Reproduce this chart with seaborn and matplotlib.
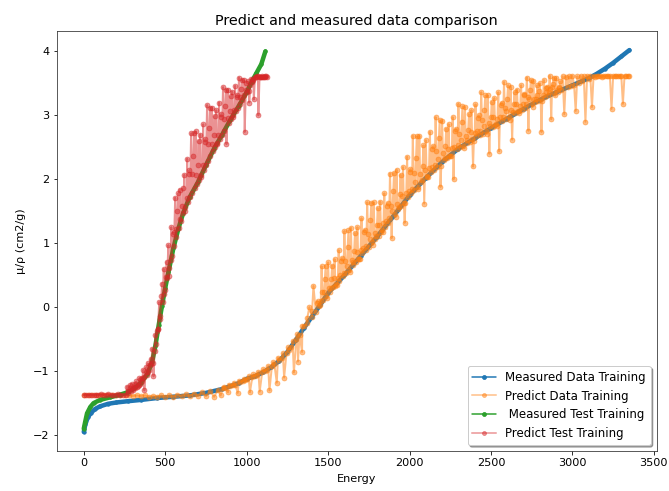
import numpy as np
import matplotlib
matplotlib.use("Agg")
import matplotlib.pyplot as plt
import seaborn as sns

# ---------------- data ----------------
# Measured training curve
meas_train_x = [0, 10, 25, 45, 70, 100, 150, 200, 270, 350,
                450, 550, 650, 750, 850, 950, 1000, 1050, 1100, 1150,
                1200, 1250, 1300, 1350, 1400, 1450, 1500, 1600, 1700, 1800,
                1900, 2000, 2100, 2200, 2300, 2400, 2500, 2600, 2700, 2800,
                2900, 3000, 3100, 3150, 3200, 3250, 3300, 3350]
meas_train_y = [-1.95, -1.83, -1.72, -1.65, -1.59, -1.55, -1.51, -1.49, -1.47, -1.45,
                -1.42, -1.40, -1.38, -1.34, -1.28, -1.19, -1.12, -1.08, -1.02, -0.94,
                -0.84, -0.70, -0.52, -0.33, -0.15, 0.03, 0.22, 0.50, 0.80, 1.10,
                1.42, 1.75, 2.02, 2.27, 2.48, 2.64, 2.80, 2.95, 3.10, 3.24,
                3.36, 3.47, 3.58, 3.65, 3.73, 3.82, 3.92, 4.02]

# Predicted training values, by energy range
pt_low_x = [0, 25, 50, 75, 100, 125, 150, 175, 200, 225, 250, 275, 300, 325, 350, 375,
            400, 425, 450, 475, 500, 525, 550, 575, 600, 625, 650, 675, 700, 725, 750,
            775, 800, 825, 840]
pt_low_y = [-1.37, -1.37, -1.37, -1.37, -1.37, -1.37, -1.38, -1.37, -1.38, -1.38, -1.38,
            -1.38, -1.39, -1.38, -1.39, -1.38, -1.40, -1.39, -1.40, -1.38, -1.40, -1.38,
            -1.40, -1.37, -1.39, -1.36, -1.39, -1.35, -1.39, -1.33, -1.39, -1.31, -1.40,
            -1.29, -1.38]
pt_rise_x = [855, 870, 885, 900, 915, 930, 945, 960, 975, 990, 1005, 1020, 1035, 1050,
             1065, 1080, 1095, 1110, 1125, 1140, 1155, 1170, 1185, 1200, 1215, 1230, 1245,
             1260, 1275, 1290, 1305, 1315, 1325, 1340, 1355, 1370, 1385, 1400, 1410, 1425,
             1435, 1445]
pt_rise_y = [-1.27, -1.26, -1.33, -1.23, -1.22, -1.21, -1.34, -1.17, -1.16, -1.14, -1.12,
             -1.33, -1.09, -1.07, -1.06, -1.32, -1.02, -1.00, -0.98, -1.30, -0.92, -0.89,
             -1.18, -0.83, -0.80, -1.10, -0.71, -0.67, -0.62, -1.02, -0.50, -0.85, -0.43,
             -0.70, -0.30, -0.25, 0.00, -0.15, 0.33, -0.08, 0.10, 0.02]
pt_rise2_x = [862, 892, 922, 952, 982, 1012, 1042, 1072, 1102, 1132, 1162, 1192, 1222,
              1252, 1282, 1312, 1342, 1372, 1402, 1432]
pt_rise2_y = [-1.24, -1.21, -1.18, -1.15, -1.12, -1.08, -1.05, -1.01, -0.97, -0.92, -0.86,
              -0.79, -0.72, -0.63, -0.53, -0.42, -0.29, -0.17, -0.06, 0.06]
pt_band_near_x = [1450, 1470, 1490, 1510, 1530, 1550, 1570, 1590, 1610, 1630, 1650, 1670,
                  1690, 1710, 1730, 1750, 1770, 1790, 1810, 1830, 1850, 1870, 1890, 1910,
                  1930, 1950, 1970, 1990, 2010, 2030, 2050, 2070, 2090, 2110, 2130, 2150,
                  2170, 2190, 2210, 2230, 2250, 2270, 2290, 2310, 2330, 2350, 2370, 2390,
                  2410, 2430, 2450, 2470, 2490, 2510, 2530, 2550, 2570, 2590, 2610, 2630,
                  2650, 2670, 2690, 2710, 2730, 2750, 2770, 2790, 2810, 2830, 2850, 2870,
                  2890, 2910]
pt_band_near_y = [0.03, 0.12, 0.18, 0.24, 0.31, 0.36, 0.41, 0.48, 0.53, 0.58, 0.66, 0.71,
                  0.76, 0.84, 0.89, 0.94, 1.02, 1.07, 1.12, 1.21, 1.26, 1.31, 1.08, 1.45,
                  1.53, 1.58, 1.32, 1.72, 1.79, 1.83, 1.88, 1.95, 1.62, 2.05, 2.11, 2.15,
                  2.19, 1.88, 2.30, 2.33, 2.37, 2.00, 2.47, 2.50, 2.52, 2.57, 2.59, 2.20,
                  2.67, 2.69, 2.71, 2.76, 2.40, 2.82, 2.86, 2.44, 2.91, 2.95, 2.97, 2.62,
                  3.04, 3.06, 3.08, 3.12, 2.76, 3.17, 3.21, 3.23, 2.74, 3.28, 3.31, 2.94,
                  3.35, 3.37]
pt_band_near2_x = [1455, 1475, 1495, 1515, 1535, 1555, 1575, 1595, 1615, 1635, 1655, 1675,
                   1695, 1715, 1735, 1755, 1775, 1795, 1815, 1835, 1855, 1875, 1895, 1915,
                   1935, 1955, 1975, 1995, 2015, 2035, 2055, 2075, 2095, 2115, 2135, 2155,
                   2175, 2195, 2215, 2235, 2255, 2275, 2295, 2315, 2335, 2355, 2375, 2395,
                   2415, 2435, 2455, 2475, 2495, 2515, 2535, 2555, 2575, 2595, 2615, 2635,
                   2655, 2675, 2695, 2715, 2735, 2755, 2775, 2795, 2815, 2835, 2855, 2875,
                   2895, 2915]
pt_band_near2_y = [0.10, 0.23, 0.14, 0.30, 0.45, 0.34, 0.51, 0.54, 0.65, 0.55, 0.70, 0.86,
                   0.75, 0.92, 0.96, 1.07, 0.97, 1.12, 1.28, 1.18, 1.35, 1.39, 1.51, 1.41,
                   1.57, 1.74, 1.63, 1.81, 1.85, 1.95, 1.85, 1.99, 2.14, 2.03, 2.19, 2.22,
                   2.32, 2.21, 2.34, 2.48, 2.36, 2.51, 2.53, 2.62, 2.49, 2.61, 2.74, 2.60,
                   2.75, 2.76, 2.84, 2.71, 2.83, 2.97, 2.83, 2.97, 2.98, 3.06, 2.93, 3.05,
                   3.18, 3.04, 3.18, 3.18, 3.26, 3.13, 3.25, 3.38, 3.23, 3.37, 3.37, 3.44,
                   3.31, 3.42]
pt_band_up_x = [1460, 1480, 1500, 1520, 1540, 1560, 1580, 1600, 1620, 1640, 1660, 1680,
                1700, 1720, 1740, 1760, 1780, 1800, 1820, 1840, 1860, 1880, 1900, 1920,
                1940, 1960, 1980, 2000, 2020, 2040, 2060, 2080, 2100, 2120, 2140, 2160,
                2180, 2200, 2220, 2240, 2260, 2280, 2300, 2320, 2340, 2360, 2380, 2400,
                2420, 2440, 2460, 2480, 2500, 2520, 2540, 2560, 2580, 2600, 2620, 2640,
                2660, 2680, 2700, 2720, 2740, 2760, 2780, 2800, 2820, 2840, 2860, 2880,
                2900, 2920]
pt_band_up_y = [0.64, 0.44, 0.70, 0.44, 0.75, 0.46, 0.73, 1.19, 0.94, 1.24, 0.88, 1.25,
                0.89, 1.17, 1.64, 1.36, 1.64, 1.29, 1.65, 1.31, 1.59, 2.09, 1.82, 2.15,
                1.77, 2.19, 1.78, 2.12, 2.68, 2.34, 2.68, 2.21, 2.61, 2.18, 2.48, 2.97,
                2.64, 2.91, 2.52, 2.86, 2.49, 2.75, 3.18, 2.89, 3.13, 2.77, 3.08, 2.72,
                2.96, 3.36, 3.08, 3.31, 2.98, 3.27, 2.95, 3.16, 3.52, 3.26, 3.45, 3.17,
                3.40, 3.14, 3.31, 3.59, 3.39, 3.54, 3.32, 3.50, 3.31, 3.43, 3.62, 3.49,
                3.58, 3.45]
pt_band_mid_x = [1465, 1485, 1505, 1525, 1545, 1565, 1585, 1605, 1625, 1645, 1665, 1685,
                 1705, 1725, 1745, 1765, 1785, 1805, 1825, 1845, 1865, 1885, 1905, 1925,
                 1945, 1965, 1985, 2005, 2025, 2045, 2065, 2085, 2105, 2125, 2145, 2165,
                 2185, 2205, 2225, 2245, 2265, 2285, 2305, 2325, 2345, 2365, 2385, 2405,
                 2425, 2445, 2465, 2485, 2505, 2525, 2545, 2565, 2585, 2605, 2625, 2645,
                 2665, 2685, 2705, 2725, 2745, 2765, 2785, 2805, 2825, 2845, 2865, 2885,
                 2905, 2925]
pt_band_mid_y = [0.24, 0.65, 0.30, 0.65, 0.33, 0.89, 0.77, 0.72, 1.20, 0.74, 1.16, 0.75,
                 1.39, 1.21, 1.15, 1.63, 1.16, 1.55, 1.17, 1.78, 1.63, 1.59, 2.10, 1.61,
                 2.07, 1.63, 2.35, 2.16, 2.10, 2.67, 2.08, 2.53, 2.03, 2.74, 2.52, 2.44,
                 2.92, 2.41, 2.79, 2.37, 2.97, 2.79, 2.71, 3.14, 2.67, 3.02, 2.63, 3.17,
                 3.00, 2.92, 3.31, 2.88, 3.21, 2.85, 3.36, 3.20, 3.12, 3.47, 3.08, 3.36,
                 3.06, 3.47, 3.34, 3.28, 3.55, 3.26, 3.47, 3.25, 3.55, 3.45, 3.41, 3.59,
                 3.40, 3.53]
pt_top_x = [2930, 2940, 2950, 2960, 2970, 2980, 2990, 3000, 3010, 3020, 3030, 3040, 3050,
            3060, 3070, 3080, 3090, 3100, 3110, 3120, 3130, 3140, 3150, 3160, 3170, 3180,
            3190, 3200, 3210, 3220, 3230, 3240, 3250, 3260, 3270, 3280, 3290, 3300, 3310,
            3320, 3330, 3340, 3350]
pt_top_y = [3.40, 3.61, 3.02, 3.60, 3.44, 3.61, 3.46, 3.62, 3.48, 3.07, 3.61, 3.51, 3.62,
            3.53, 3.61, 2.90, 3.62, 3.57, 3.61, 3.13, 3.62, 3.60, 3.62, 3.61, 3.62, 3.60,
            3.62, 3.61, 3.62, 3.61, 3.62, 3.10, 3.61, 3.62, 3.61, 3.62, 3.61, 3.62, 3.18,
            3.62, 3.61, 3.62, 3.62]

# Measured test curve
meas_test_x = [0, 8, 20, 40, 60, 100, 160, 220, 270, 310,
               350, 390, 420, 440, 460, 480, 500, 520, 550, 580,
               610, 650, 700, 750, 800, 850, 900, 950, 1000, 1030,
               1060, 1090, 1115]
meas_test_y = [-1.90, -1.80, -1.66, -1.56, -1.50, -1.45, -1.41, -1.37, -1.33, -1.27,
               -1.18, -1.05, -0.85, -0.60, -0.28, 0.02, 0.30, 0.55, 0.92, 1.22,
               1.47, 1.72, 1.95, 2.22, 2.48, 2.70, 2.93, 3.14, 3.36, 3.52,
               3.66, 3.80, 4.00]

# Predicted test values
ps_flat_x = [0, 15, 30, 45, 60, 75, 90, 105, 120, 135, 150, 165, 180, 195, 210, 225, 240]
ps_flat_y = [-1.37, -1.37, -1.37, -1.37, -1.37, -1.37, -1.37, -1.36, -1.37, -1.37, -1.36,
             -1.37, -1.37, -1.37, -1.36, -1.37, -1.37]
ps_near_x = [260, 274, 288, 302, 316, 330, 344, 358, 372, 386, 400, 414, 428, 442, 456,
             470, 484, 498, 512, 526, 540, 554, 568, 582, 596, 610, 624, 638, 652, 666,
             680, 694, 708, 722, 736, 750, 764, 778, 792, 806, 820, 834, 848, 862, 876,
             890, 904, 918, 932, 946, 960, 974, 988, 1002, 1016, 1030, 1044, 1058, 1072,
             1086, 1100, 1114]
ps_near_y = [-1.37, -1.34, -1.31, -1.29, -1.26, -1.23, -1.20, -1.15, -1.30, -1.06, -0.98,
             -0.89, -1.08, -0.57, -0.34, -0.13, 0.08, 0.27, 0.45, 0.62, 0.80, 0.96, 1.10,
             1.24, 1.35, 1.47, 1.56, 1.65, 1.73, 1.79, 1.86, 1.92, 1.99, 2.07, 2.14, 2.22,
             2.29, 2.37, 2.44, 2.51, 2.57, 2.63, 2.69, 2.76, 2.55, 2.88, 2.95, 3.01, 3.06,
             3.12, 3.18, 3.24, 2.74, 3.37, 3.20, 3.52, 3.25, 3.60, 3.00, 3.60, 3.60, 3.60]
ps_up_x = [267, 281, 295, 309, 323, 337, 351, 365, 379, 393, 407, 421, 435, 449, 463,
           477, 491, 505, 519, 533, 547, 561, 575, 589, 603, 617, 631, 645, 659, 673,
           687, 701, 715, 729, 743, 757, 771, 785, 799, 813, 827, 841, 855, 869, 883,
           897, 911, 925, 939, 953, 967, 981, 995, 1009, 1023, 1037, 1051, 1065, 1079,
           1093, 1107, 1121]
ps_up_y = [-1.24, -1.26, -1.20, -1.24, -1.16, -1.21, -1.12, -0.98, -1.01, -0.88, -0.90,
           -0.65, -0.69, -0.37, 0.08, 0.18, 0.60, 0.47, 0.97, 0.74, 1.14, 1.71, 1.51,
           1.84, 1.58, 2.07, 1.70, 2.09, 2.72, 2.36, 2.75, 2.23, 2.70, 2.22, 2.58, 3.16,
           2.80, 3.12, 2.70, 3.08, 2.69, 2.98, 3.44, 3.15, 3.40, 3.07, 3.37, 3.09, 3.29,
           3.59, 3.41, 3.55, 3.40, 3.53, 3.47, 3.56, 3.60, 3.61, 3.60, 3.61, 3.60, 3.61]
ps_mid_x = [271, 285, 299, 313, 327, 341, 355, 369, 383, 397, 411, 425, 439, 453, 467,
            481, 495, 509, 523, 537, 551, 565, 579, 593, 607, 621, 635, 649, 663, 677,
            691, 705, 719, 733, 747, 761, 775, 789, 803, 817, 831, 845, 859, 873, 887,
            901, 915, 929, 943, 957, 971, 985, 999, 1013, 1027, 1041, 1055, 1069, 1083,
            1097, 1111, 1125]
ps_mid_y = [-1.31, -1.22, -1.28, -1.20, -1.25, -1.11, -1.11, -1.09, -0.94, -1.02, -0.81,
            -0.87, -0.43, -0.34, -0.19, 0.37, 0.20, 0.71, 0.49, 1.25, 1.18, 1.22, 1.78,
            1.38, 1.86, 1.51, 2.32, 2.14, 2.08, 2.72, 2.07, 2.60, 2.04, 2.86, 2.63, 2.55,
            3.12, 2.55, 2.99, 2.55, 3.20, 3.02, 2.95, 3.40, 2.96, 3.30, 2.98, 3.46, 3.32,
            3.28, 3.56, 3.31, 3.50, 3.38, 3.57, 3.57, 3.60, 3.61, 3.60, 3.60, 3.61, 3.60]

labels = ["Measured Data Training", "Predict Data Training",
          " Measured Test Training", "Predict Test Training"]
colors = ["#1f77b4", "#ff7f0e", "#2ca02c", "#d62728"]


def merge(*pairs):
    xs = np.concatenate([np.asarray(p[0], float) for p in pairs])
    ys = np.concatenate([np.asarray(p[1], float) for p in pairs])
    order = np.argsort(xs, kind="stable")
    return xs[order], ys[order]


pred_train_x, pred_train_y = merge((pt_low_x, pt_low_y), (pt_rise_x, pt_rise_y),
                                   (pt_rise2_x, pt_rise2_y),
                                   (pt_band_near_x, pt_band_near_y),
                                   (pt_band_near2_x, pt_band_near2_y),
                                   (pt_band_up_x, pt_band_up_y),
                                   (pt_band_mid_x, pt_band_mid_y),
                                   (pt_top_x, pt_top_y))
pred_test_x, pred_test_y = merge((ps_flat_x, ps_flat_y), (ps_near_x, ps_near_y),
                                 (ps_up_x, ps_up_y), (ps_mid_x, ps_mid_y))

# ---------------- figure ----------------
W, H, DPI = 669, 491, 72
fig = plt.figure(figsize=(W / DPI, H / DPI), dpi=DPI)
ax = fig.add_axes([56.5 / W, 1 - 451 / H, (656.7 - 56.5) / W, (451 - 31) / H])

common = dict(ax=ax, sort=False, estimator=None)
sns.lineplot(x=meas_train_x, y=meas_train_y, color=colors[0], lw=4.5,
             marker="o", ms=3.5, mec=colors[0], label=labels[0],
             solid_capstyle="round", **common)
sns.lineplot(x=pred_train_x, y=pred_train_y, color=colors[1], lw=2.0,
             marker="o", ms=5, mec=colors[1], alpha=0.5, label=labels[1], **common)
sns.lineplot(x=meas_test_x, y=meas_test_y, color=colors[2], lw=4.5,
             marker="o", ms=3.5, mec=colors[2], label=labels[2],
             solid_capstyle="round", **common)
sns.lineplot(x=pred_test_x, y=pred_test_y, color=colors[3], lw=2.0,
             marker="o", ms=5, mec=colors[3], alpha=0.5, label=labels[3], **common)

ax.set_title("Predict and measured data comparison", fontsize=14.4, pad=6)
ax.set_xlabel("Energy", fontsize=11.3, labelpad=6)
ax.set_ylabel("μ/ρ (cm2/g)", fontsize=11.3, labelpad=7)
ax.set_xticks([0, 500, 1000, 1500, 2000, 2500, 3000, 3500])
ax.set_yticks([-2, -1, 0, 1, 2, 3, 4])
ax.tick_params(labelsize=11.3)
for s in ax.spines.values():
    s.set_color("#333333")

leg = ax.legend(loc="lower right", shadow=True, fontsize=11.8)
for ln in leg.get_lines():
    ln.set_linewidth(1.5)
    ln.set_markersize(4)

fig.savefig("out.png", dpi=DPI)
